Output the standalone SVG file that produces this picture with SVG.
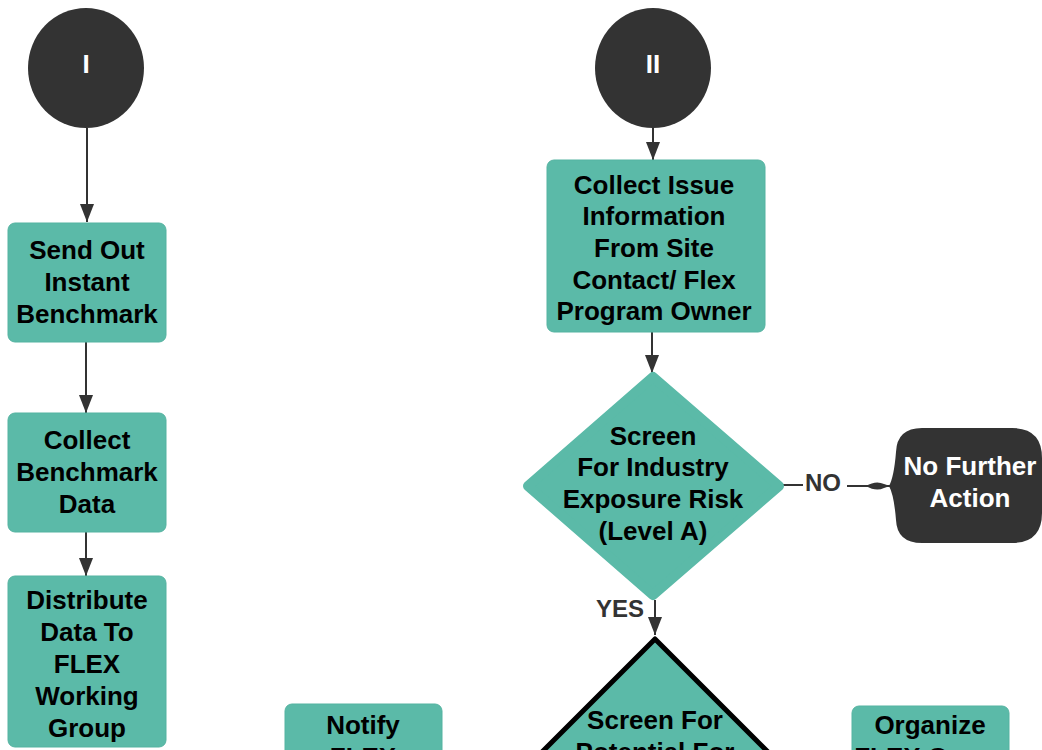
<svg xmlns="http://www.w3.org/2000/svg" width="1042" height="750" viewBox="0 0 1042 750">
<defs>
<marker id="ah" markerWidth="18" markerHeight="14" refX="18" refY="7" orient="auto" markerUnits="userSpaceOnUse" viewBox="0 0 18 14">
<path d="M0,0 L18,7 L0,14 Z" fill="#333333"/>
</marker>
<style>
.box{fill:#5bbaa8;stroke:#55b3a1;stroke-width:1}
.t{font-family:"Liberation Sans",Arial,sans-serif;font-weight:bold;font-size:26px;fill:#000;text-anchor:middle}
.w{fill:#ffffff}
.lbl{font-family:"Liberation Sans",Arial,sans-serif;font-weight:bold;font-size:24px;fill:#333333;text-anchor:middle}
.ln{stroke:#333333;stroke-width:2;fill:none}
.dark{fill:#333333}
</style>
</defs>
<rect width="1042" height="750" fill="#ffffff"/>

<g id="connectors">
<line class="ln" x1="87" y1="128" x2="87" y2="222" marker-end="url(#ah)"/>
<line class="ln" x1="86" y1="342" x2="86" y2="413" marker-end="url(#ah)"/>
<line class="ln" x1="86" y1="532" x2="86" y2="576" marker-end="url(#ah)"/>
<line class="ln" x1="653" y1="128" x2="653" y2="160" marker-end="url(#ah)"/>
<line class="ln" x1="652" y1="332" x2="652" y2="373" marker-end="url(#ah)"/>
<line class="ln" x1="655" y1="600" x2="655" y2="635" marker-end="url(#ah)"/>
<line class="ln" x1="783" y1="485" x2="803" y2="485"/>
<line class="ln" x1="847" y1="486" x2="890" y2="486" stroke-width="1.5"/>
<path d="M866,486 Q876,480 884,484 L890,486 L884,488 Q876,492 866,486 Z" fill="#333333"/>
<text class="lbl" x="823" y="491">NO</text>
<text class="lbl" x="620" y="617">YES</text>
</g>

<g id="start-I">
<ellipse class="dark" cx="86" cy="68" rx="58" ry="60"/>
<text class="t w" x="86" y="73" font-size="25">I</text>
</g>

<g id="start-II">
<ellipse class="dark" cx="653" cy="68" rx="58" ry="60"/>
<text class="t w" x="653" y="73" font-size="25">II</text>
</g>

<g id="send-out">
<rect class="box" x="8" y="223" width="158" height="119" rx="7"/>
<text class="t" x="87" y="259">Send Out</text>
<text class="t" x="87" y="291">Instant</text>
<text class="t" x="87" y="323">Benchmark</text>
</g>

<g id="collect-benchmark">
<rect class="box" x="8" y="413" width="158" height="119" rx="7"/>
<text class="t" x="87" y="449">Collect</text>
<text class="t" x="87" y="481">Benchmark</text>
<text class="t" x="87" y="513">Data</text>
</g>

<g id="distribute">
<rect class="box" x="8" y="576" width="158" height="171" rx="7"/>
<text class="t" x="87" y="609">Distribute</text>
<text class="t" x="87" y="641">Data To</text>
<text class="t" x="87" y="673">FLEX</text>
<text class="t" x="87" y="705">Working</text>
<text class="t" x="87" y="737">Group</text>
</g>

<g id="collect-issue">
<rect class="box" x="547" y="160" width="218" height="172" rx="7"/>
<text class="t" x="654" y="194">Collect Issue</text>
<text class="t" x="654" y="225">Information</text>
<text class="t" x="654" y="257">From Site</text>
<text class="t" x="654" y="289">Contact/ Flex</text>
<text class="t" x="654" y="320">Program Owner</text>
</g>

<g id="screen-level-a">
<polygon points="653,377 779,486 653,595 528,486" fill="#5bbaa8" stroke="#5bbaa8" stroke-width="10" stroke-linejoin="round"/>
<text class="t" x="653" y="445">Screen</text>
<text class="t" x="653" y="476">For Industry</text>
<text class="t" x="653" y="508">Exposure Risk</text>
<text class="t" x="653" y="540">(Level A)</text>
</g>

<g id="no-further-action">
<path d="M922,428 H1012 Q1042,428 1042,458 V513 Q1042,543 1012,543 H922 Q897,543 896,520 Q894,495 889,486 Q894,477 896,452 Q897,428 922,428 Z" fill="#333333"/>
<text class="t w" x="970" y="475">No Further</text>
<text class="t w" x="970" y="507">Action</text>
</g>

<g id="notify">
<rect class="box" x="285" y="704" width="157" height="80" rx="7"/>
<text class="t" x="363" y="734">Notify</text>
<text class="t" x="363" y="766">FLEX</text>
</g>

<g id="screen-potential">
<polygon points="655,639 840,824 470,824" fill="#5bbaa8" stroke="#000000" stroke-width="5" stroke-linejoin="round"/>
<text class="t" x="655" y="729">Screen For</text>
<text class="t" x="655" y="761">Potential For</text>
</g>

<g id="organize">
<rect class="box" x="852" y="706" width="157" height="80" rx="7"/>
<text class="t" x="930" y="734">Organize</text>
<text class="t" x="930" y="766">FLEX Group</text>
</g>
</svg>
